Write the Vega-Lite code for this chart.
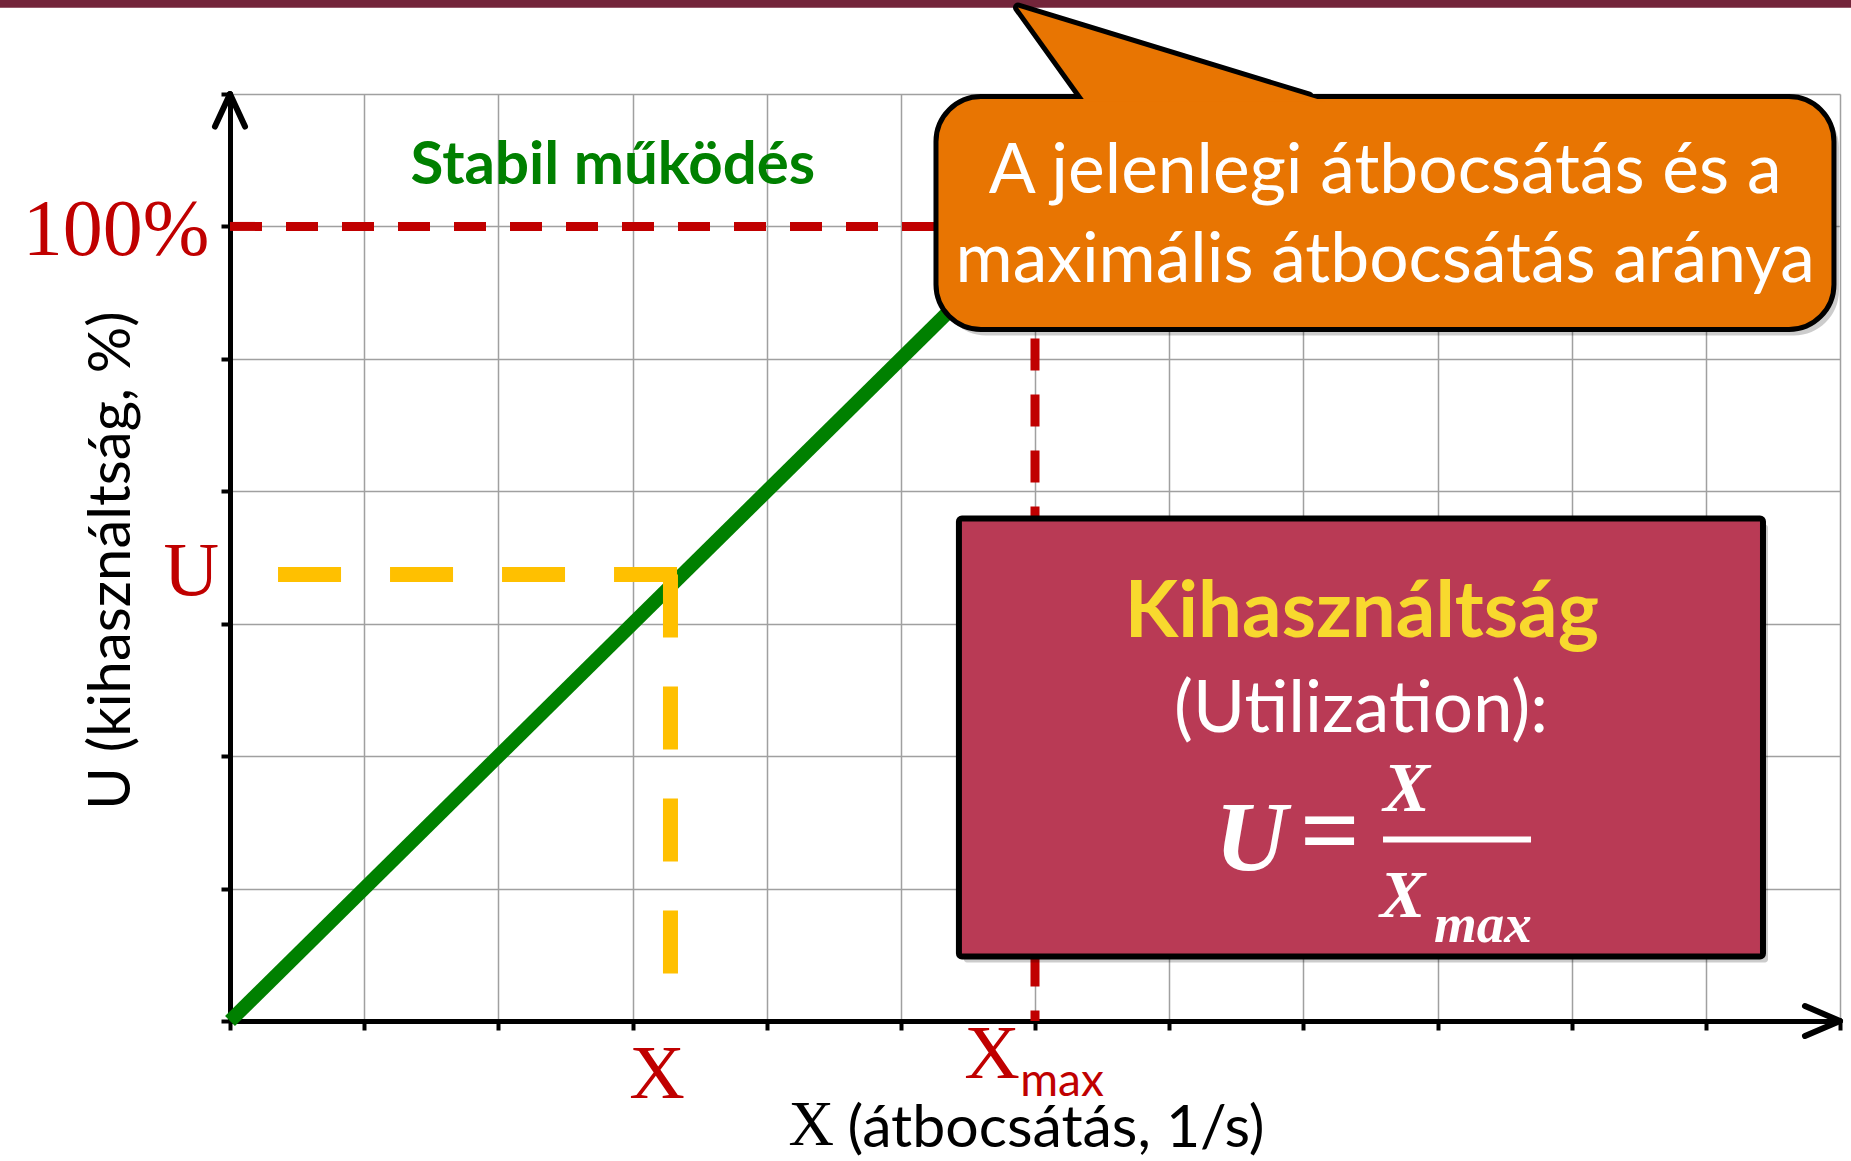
{
  "$schema": "https://vega.github.io/schema/vega-lite/v6.json",
  "width": 1610,
  "height": 927,
  "autosize": {"type": "none"},
  "padding": {"left": 230, "top": 94, "right": 11, "bottom": 140},
  "background": "#ffffff",
  "config": {"view": {"stroke": null}},
  "datasets": {
    "bar": [{"x": -1.9, "x2": 12.2, "y": 7.8, "y2": 7.651}],
    "lines": [
      {"s": "green", "o": 1, "x": 0, "y": 0},
      {"s": "green", "o": 2, "x": 6, "y": 6},
      {"s": "yellowh", "o": 1, "x": 0.358, "y": 3.372},
      {"s": "yellowh", "o": 2, "x": 3.339, "y": 3.372},
      {"s": "yellowv", "o": 1, "x": 3.283, "y": 3.372},
      {"s": "yellowv", "o": 2, "x": 3.283, "y": 0.351},
      {"s": "redh", "o": 1, "x": 0, "y": 6},
      {"s": "redh", "o": 2, "x": 12.1, "y": 6},
      {"s": "redv", "o": 1, "x": 6, "y": 6},
      {"s": "redv", "o": 2, "x": 6, "y": 0}
    ],
    "arrows": [
      {"x": 0, "y": 7, "x2": -0.112, "y2": 6.754},
      {"x": 0, "y": 7, "x2": 0.112, "y2": 6.754},
      {"x": 12, "y": 0, "x2": 11.739, "y2": 0.113},
      {"x": 12, "y": 0, "x2": 11.739, "y2": -0.113}
    ],
    "boxes": [
      {"name": "orange", "x": 5.262, "x2": 11.955, "y": 6.981, "y2": 5.222},
      {"name": "maroon", "x": 5.433, "x2": 11.426, "y": 3.794, "y2": 0.487}
    ],
    "tail": [
      {"x": 5.873, "y": 7.653, "y2": 7.653},
      {"x": 6.35, "y": 7.505, "y2": 6.981},
      {"x": 8.042, "y": 6.981, "y2": 6.981}
    ],
    "tailfill": [
      {"x": 5.873, "y": 7.653, "y2": 7.653},
      {"x": 6.378, "y": 7.497, "y2": 6.941},
      {"x": 8.171, "y": 6.941, "y2": 6.941}
    ]
  },
  "encoding": {
    "x": {
      "field": "x",
      "type": "quantitative",
      "scale": {"domain": [0, 12], "nice": false, "zero": false},
      "axis": {
        "values": [0, 1, 2, 3, 4, 5, 6, 7, 8, 9, 10, 11, 12],
        "grid": true, "gridColor": "#a0a0a0", "gridWidth": 1.5,
        "domain": true, "domainColor": "#000000", "domainWidth": 5,
        "ticks": true, "tickColor": "#000000", "tickWidth": 4, "tickSize": 9,
        "labels": false,
        "title": "(átbocsátás, 1/s)",
        "titleFont": "Lato", "titleFontSize": 59, "titleFontWeight": "normal", "titleColor": "#000000",
        "titleX": 617, "titleY": 125, "titleBaseline": "alphabetic", "titleAlign": "left"
      }
    },
    "y": {
      "field": "y",
      "type": "quantitative",
      "scale": {"domain": [0, 7], "nice": false, "zero": false},
      "axis": {
        "values": [0, 1, 2, 3, 4, 5, 6, 7],
        "grid": true, "gridColor": "#a0a0a0", "gridWidth": 1.5,
        "domain": true, "domainColor": "#000000", "domainWidth": 5,
        "ticks": true, "tickColor": "#000000", "tickWidth": 4, "tickSize": 9,
        "labels": false,
        "title": "U (kihasználtság, %)",
        "titleFont": "Lato", "titleFontSize": 58, "titleFontWeight": "normal", "titleColor": "#000000",
        "titleX": -101, "titleY": 466, "titleAngle": 270, "titleBaseline": "alphabetic", "titleAlign": "center"
      }
    }
  },
  "layer": [
    {"data": {"name": "bar"}, "mark": {"type": "rect", "color": "#73253A"},
     "encoding": {"x2": {"field": "x2"}, "y2": {"field": "y2"}}},
    {"data": {"name": "lines"}, "transform": [{"filter": "datum.s === 'redh' || datum.s === 'redv'"}],
     "mark": {"type": "line", "color": "#C00000", "strokeWidth": 9, "strokeDash": [32, 24]},
     "encoding": {"detail": {"field": "s"}, "order": {"field": "o"}}},
    {"data": {"name": "lines"}, "transform": [{"filter": "datum.s === 'green'"}],
     "mark": {"type": "line", "color": "#008000", "strokeWidth": 14},
     "encoding": {"order": {"field": "o"}}},
    {"data": {"name": "lines"}, "transform": [{"filter": "datum.s === 'yellowh' || datum.s === 'yellowv'"}],
     "mark": {"type": "line", "color": "#FFC000", "strokeWidth": 15, "strokeDash": [63, 49]},
     "encoding": {"detail": {"field": "s"}, "order": {"field": "o"}}},
    {"data": {"name": "arrows"}, "mark": {"type": "rule", "color": "#000000", "strokeWidth": 6, "strokeCap": "round"},
     "encoding": {"x2": {"field": "x2"}, "y2": {"field": "y2"}}},
    {"data": {"name": "boxes"}, "transform": [{"filter": "datum.name === 'orange'"}],
     "mark": {"type": "rect", "color": "#000000", "opacity": 0.2, "cornerRadius": 45, "xOffset": 5, "x2Offset": 5, "yOffset": 6, "y2Offset": 6},
     "encoding": {"x2": {"field": "x2"}, "y2": {"field": "y2"}}},
    {"data": {"name": "boxes"}, "transform": [{"filter": "datum.name === 'maroon'"}],
     "mark": {"type": "rect", "color": "#000000", "opacity": 0.2, "cornerRadius": 3, "xOffset": 5, "x2Offset": 5, "yOffset": 6, "y2Offset": 6},
     "encoding": {"x2": {"field": "x2"}, "y2": {"field": "y2"}}},
    {"data": {"name": "tail"},
     "mark": {"type": "area", "fill": "#E87502", "stroke": "#000000", "strokeWidth": 10, "strokeJoin": "round"},
     "encoding": {"y2": {"field": "y2"}}},
    {"data": {"name": "boxes"}, "transform": [{"filter": "datum.name === 'orange'"}],
     "mark": {"type": "rect", "fill": "#E87502", "stroke": "#000000", "strokeWidth": 5, "cornerRadius": 45},
     "encoding": {"x2": {"field": "x2"}, "y2": {"field": "y2"}}},
    {"data": {"name": "tailfill"},
     "mark": {"type": "area", "fill": "#E87502", "strokeWidth": 0},
     "encoding": {"y2": {"field": "y2"}}},
    {"data": {"name": "boxes"}, "transform": [{"filter": "datum.name === 'maroon'"}],
     "mark": {"type": "rect", "fill": "#B93A55", "stroke": "#000000", "strokeWidth": 6, "cornerRadius": 3},
     "encoding": {"x2": {"field": "x2"}, "y2": {"field": "y2"}}},
    {"data": {"values": [{"t": "100%", "x": -0.153, "y": 5.786}]},
     "mark": {"type": "text", "font": "Liberation Serif", "fontSize": 80, "color": "#C00000", "align": "right", "baseline": "alphabetic"},
     "encoding": {"text": {"field": "t"}}},
    {"data": {"values": [
        {"t": "U", "x": -0.082, "y": 3.22},
        {"t": "X", "x": 3.39, "y": -0.585},
        {"t": "X", "x": 5.888, "y": -0.427}
      ]},
     "mark": {"type": "text", "font": "Liberation Serif", "fontSize": 77, "color": "#C00000", "align": "right", "baseline": "alphabetic"},
     "encoding": {"text": {"field": "t"}}},
    {"data": {"values": [{"t": "max", "x": 5.89, "y": -0.57}]},
     "mark": {"type": "text", "font": "Lato", "fontSize": 46, "color": "#C00000", "align": "left", "baseline": "alphabetic"},
     "encoding": {"text": {"field": "t"}}},
    {"data": {"values": [{"t": "X", "x": 4.502, "y": -0.933}]},
     "mark": {"type": "text", "font": "Liberation Serif", "fontSize": 63, "color": "#000000", "align": "right", "baseline": "alphabetic"},
     "encoding": {"text": {"field": "t"}}},
    {"data": {"values": [{"t": "Stabil működés", "x": 2.854, "y": 6.324}]},
     "mark": {"type": "text", "font": "Lato", "fontSize": 60, "fontWeight": "bold", "color": "#008000", "align": "center", "baseline": "alphabetic"},
     "encoding": {"text": {"field": "t"}}},
    {"data": {"values": [
        {"t": "A jelenlegi átbocsátás és a", "x": 8.61, "y": 6.256},
        {"t": "maximális átbocsátás aránya", "x": 8.61, "y": 5.577}
      ]},
     "mark": {"type": "text", "font": "Lato", "fontSize": 69.5, "color": "#ffffff", "align": "center", "baseline": "alphabetic"},
     "encoding": {"text": {"field": "t"}}},
    {"data": {"values": [{"t": "Kihasználtság", "x": 8.436, "y": 2.896}]},
     "mark": {"type": "text", "font": "Lato", "fontSize": 78, "fontWeight": "bold", "color": "#F8D92E", "align": "center", "baseline": "alphabetic"},
     "encoding": {"text": {"field": "t"}}},
    {"data": {"values": [{"t": "(Utilization):", "x": 8.43, "y": 2.186}]},
     "mark": {"type": "text", "font": "Lato", "fontSize": 71, "color": "#ffffff", "align": "center", "baseline": "alphabetic"},
     "encoding": {"text": {"field": "t"}}},
    {"data": {"values": [{"t": "U", "x": 7.61, "y": 1.144}]},
     "mark": {"type": "text", "font": "Liberation Serif", "fontSize": 100, "fontWeight": "bold", "fontStyle": "italic", "color": "#ffffff", "align": "center", "baseline": "alphabetic"},
     "encoding": {"text": {"field": "t"}}},
    {"data": {"values": [{"t": "=", "x": 8.199, "y": 1.167}]},
     "mark": {"type": "text", "font": "Liberation Serif", "fontSize": 105, "fontWeight": "bold", "color": "#ffffff", "align": "center", "baseline": "alphabetic"},
     "encoding": {"text": {"field": "t"}}},
    {"data": {"values": [{"x": 8.594, "x2": 9.697, "y": 1.371}]},
     "mark": {"type": "rule", "color": "#ffffff", "strokeWidth": 6},
     "encoding": {"x2": {"field": "x2"}}},
    {"data": {"values": [{"t": "X", "x": 8.77, "y": 1.582}]},
     "mark": {"type": "text", "font": "Liberation Serif", "fontSize": 70, "fontWeight": "bold", "fontStyle": "italic", "color": "#ffffff", "align": "center", "baseline": "alphabetic"},
     "encoding": {"text": {"field": "t"}}},
    {"data": {"values": [{"t": "X", "x": 8.74, "y": 0.789}]},
     "mark": {"type": "text", "font": "Liberation Serif", "fontSize": 68, "fontWeight": "bold", "fontStyle": "italic", "color": "#ffffff", "align": "center", "baseline": "alphabetic"},
     "encoding": {"text": {"field": "t"}}},
    {"data": {"values": [{"t": "max", "x": 8.974, "y": 0.6}]},
     "mark": {"type": "text", "font": "Liberation Serif", "fontSize": 55, "fontWeight": "bold", "fontStyle": "italic", "color": "#ffffff", "align": "left", "baseline": "alphabetic"},
     "encoding": {"text": {"field": "t"}}}
  ]
}
